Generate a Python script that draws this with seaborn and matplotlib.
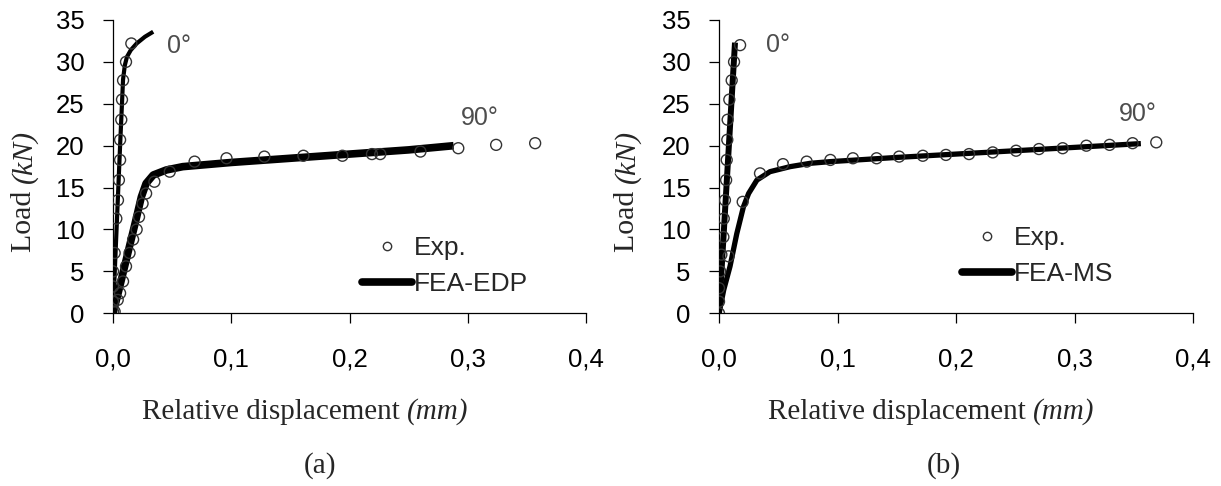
import pandas as pd
import matplotlib
matplotlib.use("Agg")
import matplotlib.pyplot as plt
import seaborn as sns
from matplotlib.lines import Line2D

# ---- data ----
# (a) FEA-EDP
a_exp0_x = [0.000, 0.000, 0.000, 0.000, 0.0014, 0.0028, 0.0042, 0.005, 0.006, 0.006, 0.007, 0.0076, 0.0085, 0.011, 0.0155]
a_exp0_y = [0.2, 1.4, 3.2, 5.0, 7.2, 11.3, 13.5, 15.9, 18.3, 20.7, 23.1, 25.5, 27.8, 30.0, 32.2]
a_fea0_x = [0, 0.003, 0.006, 0.0085, 0.010, 0.0118, 0.015, 0.020, 0.027, 0.034]
a_fea0_y = [0, 10.0, 20.0, 27.9, 29.6, 30.6, 31.4, 32.2, 33.0, 33.6]
a_exp90_x = [0.0014, 0.004, 0.006, 0.0085, 0.011, 0.014, 0.017, 0.020, 0.022, 0.025, 0.028, 0.035,
             0.048, 0.069, 0.096, 0.128, 0.161, 0.194, 0.219, 0.226, 0.260, 0.292, 0.324, 0.357]
a_exp90_y = [0.2, 1.6, 2.4, 3.8, 5.6, 7.2, 8.8, 10.0, 11.5, 13.1, 14.3, 15.7,
             16.9, 18.1, 18.5, 18.7, 18.8, 18.8, 19.0, 19.0, 19.3, 19.7, 20.1, 20.3]
a_fea90_x = [0, 0.005, 0.010, 0.015, 0.020, 0.024, 0.028, 0.034, 0.045, 0.059, 0.10, 0.15, 0.20, 0.25, 0.288]
a_fea90_y = [0, 2.8, 5.7, 8.6, 11.5, 13.9, 15.5, 16.5, 17.1, 17.5, 18.0, 18.5, 19.0, 19.5, 20.0]

# (b) FEA-MS
b_exp0_x = [0, 0, 0, 0.001, 0.002, 0.0037, 0.004, 0.005, 0.006, 0.0065, 0.007, 0.0073, 0.0087, 0.0107, 0.0127, 0.0178]
b_exp0_y = [0.0, 1.4, 3.0, 5.0, 7.0, 9.1, 11.3, 13.5, 15.9, 18.3, 20.7, 23.1, 25.5, 27.8, 30.0, 32.0]
b_fea0_x = [0, 0.005, 0.010, 0.0135]
b_fea0_y = [0, 12.0, 24.0, 32.3]
b_exp90_x = [0.008, 0.020, 0.0346, 0.054, 0.074, 0.094, 0.113, 0.133, 0.152, 0.172, 0.1915, 0.211,
             0.231, 0.2507, 0.270, 0.290, 0.310, 0.3296, 0.349, 0.369]
b_exp90_y = [6.8, 13.3, 16.7, 17.8, 18.1, 18.3, 18.5, 18.5, 18.7, 18.8, 18.9, 19.0,
             19.2, 19.4, 19.6, 19.7, 20.0, 20.1, 20.3, 20.4]
b_fea90_x = [0, 0.004, 0.0093, 0.015, 0.0206, 0.025, 0.032, 0.043, 0.06, 0.077, 0.094, 0.15, 0.20, 0.25, 0.30, 0.356]
b_fea90_y = [0, 2.8, 5.6, 9.5, 12.7, 14.3, 15.9, 16.9, 17.5, 17.9, 18.1, 18.6, 19.0, 19.4, 19.8, 20.25]

x_ticks = [0.0, 0.1, 0.2, 0.3, 0.4]
x_tick_labels = ["0,0", "0,1", "0,2", "0,3", "0,4"]
y_ticks = [0, 5, 10, 15, 20, 25, 30, 35]

sns.set_style("ticks")
plt.rcParams["font.family"] = ["Liberation Sans", "DejaVu Sans"]

W, H = 1221, 486
fig = plt.figure(figsize=(W / 100, H / 100), dpi=100)
ax_a = fig.add_axes([113 / W, 172.7 / H, 473 / W, 293.3 / H])
ax_b = fig.add_axes([719 / W, 172.7 / H, 474 / W, 293.3 / H])

marker_kw = dict(marker="o", s=62, facecolor="none", edgecolor="#333333", linewidth=1.0, zorder=4)


def draw_panel(ax, exp0, fea0, exp90, fea90, lw0, lw90):
    sns.lineplot(x=fea90[0], y=fea90[1], sort=False, color="black", linewidth=lw90, ax=ax,
                 solid_capstyle="butt", zorder=3)
    sns.lineplot(x=fea0[0], y=fea0[1], sort=False, color="black", linewidth=lw0, ax=ax,
                 solid_capstyle="butt", zorder=3)
    sns.scatterplot(x=exp0[0], y=exp0[1], ax=ax, **marker_kw)
    sns.scatterplot(x=exp90[0], y=exp90[1], ax=ax, **marker_kw)

    ax.set_xlim(0, 0.4)
    ax.set_ylim(0, 35)
    ax.set_xticks(x_ticks, x_tick_labels)
    ax.set_yticks(y_ticks)
    ax.tick_params(axis="both", direction="out", length=7.5, width=0.9, color="black",
                   labelsize=18.5, labelcolor="black")
    ax.tick_params(axis="y", pad=13)
    ax.tick_params(axis="x", pad=17)
    ax.set_xlabel("")
    ax.set_ylabel("")
    for side in ["top", "right"]:
        ax.spines[side].set_visible(False)
    for side in ["left", "bottom"]:
        ax.spines[side].set_linewidth(0.9)
        ax.spines[side].set_color("black")
    ax.patch.set_alpha(0)


draw_panel(ax_a, (a_exp0_x, a_exp0_y), (a_fea0_x, a_fea0_y), (a_exp90_x, a_exp90_y),
           (a_fea90_x, a_fea90_y), lw0=3.0, lw90=5.5)
draw_panel(ax_b, (b_exp0_x, b_exp0_y), (b_fea0_x, b_fea0_y), (b_exp90_x, b_exp90_y),
           (b_fea90_x, b_fea90_y), lw0=4.3, lw90=3.8)

# angle labels
ax_a.text(0.0558, 31.9, "0°", fontsize=18, color="#4d4d4d", ha="center", va="center")
ax_a.text(0.3103, 23.3, "90°", fontsize=18, color="#4d4d4d", ha="center", va="center")
ax_b.text(0.0498, 32.0, "0°", fontsize=18, color="#4d4d4d", ha="center", va="center")
ax_b.text(0.3537, 23.8, "90°", fontsize=18, color="#4d4d4d", ha="center", va="center")

# legends
for ax, name, lx, ly in [(ax_a, "FEA-EDP", 362, 266), (ax_b, "FEA-MS", 962, 256)]:
    handles = [
        Line2D([], [], linestyle="none", marker="o", markersize=6, markerfacecolor="none",
               markeredgecolor="#333333", markeredgewidth=1.0),
        Line2D([], [], color="black", linewidth=5.5),
    ]
    ax.legend(handles, ["Exp.", name], loc="center left", bbox_to_anchor=(lx / W, 1 - ly / H),
              bbox_transform=fig.transFigure, frameon=False, fontsize=19, handlelength=1.9,
              handletextpad=0.05, labelspacing=0.45, borderpad=0, borderaxespad=0)

# axis titles: upright word + italic unit, chained with annotate
serif = ["Liberation Serif", "DejaVu Serif"]
for x0, cx, lab in [(142, 320, "(a)"), (768, 944, "(b)")]:
    t1 = fig.text(x0 / W, 1 - 412 / H, "Relative displacement ", family=serif,
                  fontsize=21, ha="left", va="baseline")
    fig.texts[-1].set_va("center")
    ax_a.annotate("(mm)", xy=(1, 0.5), xycoords=t1, family=serif, fontsize=21,
                  style="italic", ha="left", va="center", annotation_clip=False)
    fig.text(cx / W, 1 - 466 / H, lab, family=serif, fontsize=21, ha="center", va="center")
for cx in [24, 627]:
    t2 = fig.text(cx / W, 1 - 252 / H, "Load ", family=serif, fontsize=21.5,
                  rotation=90, ha="center", va="bottom")
    ax_a.annotate("(kN)", xy=(0.5, 1), xycoords=t2, family=serif, fontsize=21.5,
                  style="italic", rotation=90, ha="center", va="bottom", annotation_clip=False)

fig.savefig("out.png", dpi=100)
